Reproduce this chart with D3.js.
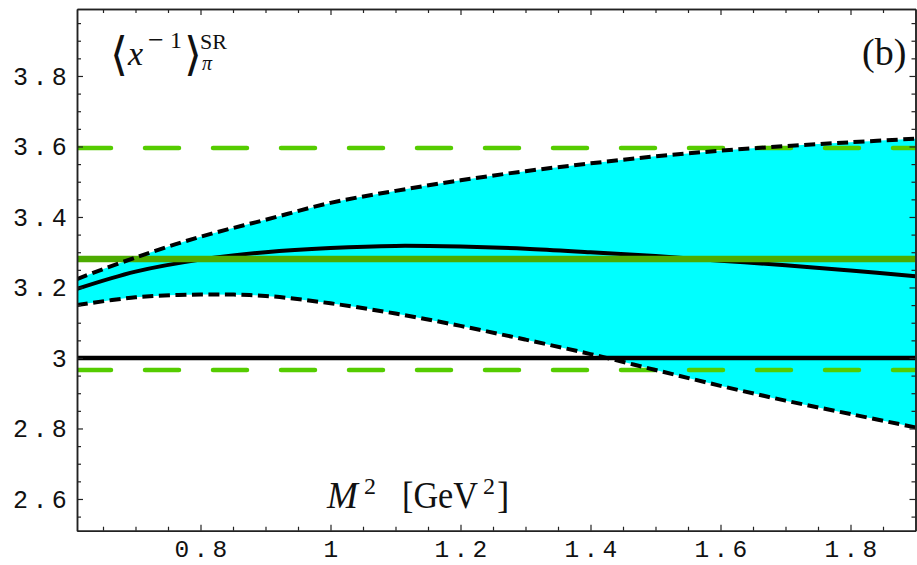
<!DOCTYPE html>
<html><head><meta charset="utf-8">
<script src="https://cdn.jsdelivr.net/npm/d3@7"></script>
<style>body{margin:0;background:#fff}svg{display:block}</style>
</head><body><svg id="c" width="917" height="565"></svg>
<script>
// M^2 grid (GeV^2)
const m2 = [0.61, 0.7, 0.8, 0.9, 1.0, 1.1, 1.2, 1.3, 1.4, 1.5, 1.6, 1.7, 1.8, 1.9];
// central sum-rule curve
const central = [3.196, 3.245, 3.279, 3.300, 3.312, 3.318, 3.316, 3.310, 3.300, 3.289, 3.276, 3.263, 3.248, 3.232];
// upper and lower error-band curves
const upper = [3.224, 3.285, 3.344, 3.392, 3.440, 3.474, 3.504, 3.530, 3.552, 3.572, 3.588, 3.601, 3.612, 3.622];
const lower = [3.150, 3.172, 3.180, 3.176, 3.155, 3.126, 3.091, 3.052, 3.011, 2.966, 2.921, 2.879, 2.841, 2.803];
// horizontal reference values
const asymptotic = 3.0;
const greenCentral = 3.281;
const greenUpper = 3.596;
const greenLower = 2.966;
// axes
const xTicks = [0.8, 1, 1.2, 1.4, 1.6, 1.8];
const xTickLabels = ["0.8", "1", "1.2", "1.4", "1.6", "1.8"];
const yTicks = [2.6, 2.8, 3, 3.2, 3.4, 3.6, 3.8];
const yTickLabels = ["2.6", "2.8", "3", "3.2", "3.4", "3.6", "3.8"];
const xMinor = d3.range(0.65, 1.9, 0.05).map(v => +v.toFixed(2));
const yMinor = d3.range(2.55, 3.99, 0.05).map(v => +v.toFixed(2));

const svg = d3.select("#c");
const L = 77, R = 915.5, T = 9, B = 530.7;
const x = d3.scaleLinear().domain([0.61, 1.9]).range([L, R]);
const y = d3.scaleLinear().domain([2.51, 3.99]).range([B, T]);

svg.append("defs").append("clipPath").attr("id", "clip")
  .append("rect").attr("x", L).attr("y", T).attr("width", R - L).attr("height", B - T);
const g = svg.append("g").attr("clip-path", "url(#clip)");

const pts = m2.map((v, i) => ({m: v, c: central[i], u: upper[i], l: lower[i]}));
const area = d3.area().x(d => x(d.m)).y0(d => y(d.l)).y1(d => y(d.u)).curve(d3.curveCatmullRom);
g.append("path").datum(pts).attr("d", area).attr("fill", "#00ffff");

function hline(v, color, w, dash, cap) {
  g.append("line").attr("x1", L).attr("x2", R).attr("y1", y(v)).attr("y2", y(v))
    .attr("stroke", color).attr("stroke-width", w)
    .attr("stroke-dasharray", dash || null).attr("stroke-linecap", cap || "butt");
}
hline(asymptotic, "#000", 4.5);
const lineOf = key => d3.line().x(d => x(d.m)).y(d => y(d[key])).curve(d3.curveCatmullRom);
g.append("path").datum(pts).attr("d", lineOf("c")).attr("fill", "none").attr("stroke", "#000").attr("stroke-width", 4);
hline(greenCentral, "#4dab00", 6.5);
hline(greenUpper, "#55cc00", 4.5, "34,34", "round");
hline(greenLower, "#55cc00", 4.5, "34,34", "round");
["u", "l"].forEach(k => {
  g.append("path").datum(pts).attr("d", lineOf(k)).attr("fill", "none")
    .attr("stroke", "#000").attr("stroke-width", 4).attr("stroke-dasharray", "11,5.5");
});

// axes
const axCol = "#222";
function styleAxis(sel) {
  sel.select(".domain").attr("stroke", axCol).attr("stroke-width", 1.5);
  sel.selectAll(".tick line").attr("stroke", axCol).attr("stroke-width", 1.2);
}
const fmtX = d => xTickLabels[xTicks.indexOf(d)];
const fmtY = d => yTickLabels[yTicks.indexOf(d)];
const mono = "'Liberation Mono', monospace";

const gb = svg.append("g").attr("transform", `translate(0,${B})`)
  .call(d3.axisBottom(x).tickValues(xTicks).tickSizeInner(-6).tickSizeOuter(0).tickFormat(fmtX));
svg.append("g").attr("transform", `translate(0,${B})`)
  .call(d3.axisBottom(x).tickValues(xMinor.filter(v => !xTicks.includes(v))).tickSizeInner(-4).tickSizeOuter(0).tickFormat(""))
  .call(styleAxis);
styleAxis(gb);
gb.selectAll("text").attr("y", 26.5).attr("dy", 0).attr("dx", 2)
  .style("font-family", mono).style("font-size", "24.5px")
  .style("letter-spacing", "4.3px").attr("fill", "#111");

const gt = svg.append("g").attr("transform", `translate(0,${T})`)
  .call(d3.axisTop(x).tickValues(xTicks).tickSizeInner(-6).tickSizeOuter(0).tickFormat(""));
styleAxis(gt);
svg.append("g").attr("transform", `translate(0,${T})`)
  .call(d3.axisTop(x).tickValues(xMinor.filter(v => !xTicks.includes(v))).tickSizeInner(-4).tickSizeOuter(0).tickFormat(""))
  .call(styleAxis);

const gl = svg.append("g").attr("transform", `translate(${L},0)`)
  .call(d3.axisLeft(y).tickValues(yTicks).tickSizeInner(-6).tickSizeOuter(0).tickFormat(fmtY));
styleAxis(gl);
gl.selectAll("text").attr("x", -6).attr("dy", 0).attr("y", 8.5)
  .style("font-family", mono).style("font-size", "25px")
  .style("letter-spacing", "4.3px").attr("fill", "#111");
svg.append("g").attr("transform", `translate(${L},0)`)
  .call(d3.axisLeft(y).tickValues(yMinor.filter(v => !yTicks.includes(v))).tickSizeInner(-4).tickSizeOuter(0).tickFormat(""))
  .call(styleAxis);

const gr = svg.append("g").attr("transform", `translate(${R},0)`)
  .call(d3.axisRight(y).tickValues(yTicks).tickSizeInner(-6).tickSizeOuter(0).tickFormat(""));
styleAxis(gr);
svg.append("g").attr("transform", `translate(${R},0)`)
  .call(d3.axisRight(y).tickValues(yMinor.filter(v => !yTicks.includes(v))).tickSizeInner(-4).tickSizeOuter(0).tickFormat(""))
  .call(styleAxis);

// labels
const serif = "'Liberation Serif', 'DejaVu Serif', serif";
const t1 = svg.append("text").style("font-family", serif).attr("fill", "#111");
t1.append("tspan").attr("x", 110).attr("y", 70).text("⟨").style("font-size", "46px").style("font-family", "'DejaVu Serif', serif");
t1.append("tspan").attr("x", 128).attr("y", 65).text("x").style("font-size", "34px").style("font-style", "italic");
t1.append("tspan").attr("x", 148).attr("y", 49).text("−").style("font-size", "28px");
t1.append("tspan").attr("x", 170).attr("y", 48).text("1").style("font-size", "24px");
t1.append("tspan").attr("x", 184).attr("y", 70).text("⟩").style("font-size", "46px").style("font-family", "'DejaVu Serif', serif");
t1.append("tspan").attr("x", 200).attr("y", 48.5).text("SR").style("font-size", "22px");
t1.append("tspan").attr("x", 202).attr("y", 69.5).text("π").style("font-size", "20px").style("font-style", "italic");

svg.append("text").attr("x", 862).attr("y", 65).text("(b)").style("font-family", serif).style("font-size", "38px").attr("fill", "#111");

const xl = svg.append("text").style("font-family", serif).style("font-size", "37px").attr("fill", "#111");
xl.append("tspan").attr("x", 327).attr("y", 508).text("M").style("font-style", "italic");
xl.append("tspan").attr("x", 364).attr("y", 494).text("2").style("font-size", "24px");
xl.append("tspan").attr("x", 402).attr("y", 508).text("[GeV").attr("textLength", 76).attr("lengthAdjust", "spacingAndGlyphs");
xl.append("tspan").attr("x", 483).attr("y", 494).text("2").style("font-size", "24px");
xl.append("tspan").attr("x", 497).attr("y", 508).text("]");
</script></body></html>
